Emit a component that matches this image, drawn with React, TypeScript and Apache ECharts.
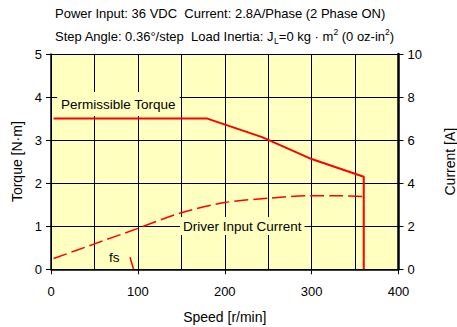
import React, { useEffect, useRef } from "react";
import * as echarts from "echarts";

const speedTicks = [0, 100, 200, 300, 400];
const torqueSpeed = [3, 180, 243, 300, 360, 360];
const torqueValues = [3.5, 3.5, 3.07, 2.56, 2.15, 0];
const currentSpeed = [3, 50, 100, 150, 200, 250, 300, 330, 360];
const currentValues = [0.5, 1.18, 1.9, 2.63, 3.1, 3.3, 3.42, 3.42, 3.38];
const fsSpeed = [91, 95];
const fsTorque = [0.28, 0];

const FONT = "Liberation Sans, Arial, sans-serif";
const BG = "#FFFFC0";

export default function App() {
  const ref = useRef<HTMLDivElement>(null);
  useEffect(() => {
    if (!ref.current) return;
    const chart = echarts.init(ref.current, undefined, { renderer: "svg" });
    const zip = (a: number[], b: number[]) => a.map((v, i) => [v, b[i]]);
    chart.setOption({
      animation: false,
      textStyle: { fontFamily: FONT },
      grid: {
        left: 51,
        right: 58.5,
        top: 54,
        bottom: 57.7,
        show: true,
        backgroundColor: BG,
        borderWidth: 0,
        containLabel: false,
        outerBoundsMode: "none",
      },
      xAxis: {
        type: "value",
        min: speedTicks[0],
        max: speedTicks[speedTicks.length - 1],
        interval: 100,
        name: "Speed [r/min]",
        nameLocation: "middle",
        nameGap: 41,
        nameTextStyle: { fontSize: 14, color: "#000", fontFamily: FONT },
        axisLine: { show: true, lineStyle: { color: "#000", width: 1.5 } },
        axisTick: { show: true, length: 5, lineStyle: { color: "#000" } },
        axisLabel: { fontSize: 13, color: "#000", margin: 16, fontFamily: FONT },
        splitLine: { show: true, lineStyle: { color: "#000", width: 1 } },
        minorTick: { show: false, splitNumber: 2 },
        minorSplitLine: { show: true, lineStyle: { color: "#000", width: 1 } },
      },
      yAxis: [
        {
          type: "value",
          min: 0,
          max: 5,
          interval: 1,
          name: "Torque [N·m]",
          nameLocation: "middle",
          nameGap: 27,
          nameTextStyle: { fontSize: 14, color: "#000", fontFamily: FONT },
          axisLine: { show: true, lineStyle: { color: "#000", width: 1.5 } },
          axisTick: { show: true, length: 5, lineStyle: { color: "#000" } },
          axisLabel: { fontSize: 13, color: "#000", margin: 9, fontFamily: FONT },
          splitLine: { show: true, lineStyle: { color: "#000", width: 1 } },
        },
        {
          type: "value",
          min: 0,
          max: 10,
          interval: 2,
          position: "right",
          name: "Current [A]",
          nameLocation: "middle",
          nameGap: 44,
          nameRotate: 90,
          nameTextStyle: { fontSize: 14, color: "#000", fontFamily: FONT },
          axisLine: { show: true, lineStyle: { color: "#000", width: 2.5 } },
          axisTick: { show: true, length: 5, lineStyle: { color: "#000" } },
          axisLabel: { fontSize: 13, color: "#000", margin: 9, fontFamily: FONT },
          splitLine: { show: false },
        },
      ],
      series: [
        {
          type: "line",
          data: zip(torqueSpeed, torqueValues),
          symbol: "none",
          lineStyle: { color: "#FF0000", width: 2 },
          z: 5,
        },
        {
          type: "line",
          yAxisIndex: 1,
          data: zip(currentSpeed, currentValues),
          symbol: "none",
          smooth: 0.3,
          lineStyle: { color: "#FF0000", width: 1.5, type: [14, 5] },
          z: 5,
        },
        {
          type: "line",
          data: zip(fsSpeed, fsTorque),
          symbol: "none",
          lineStyle: { color: "#FF0000", width: 1.5 },
          z: 5,
        },
      ],
      graphic: [
        {
          type: "text",
          left: 55,
          top: 7,
          style: {
            text: "Power Input: 36 VDC  Current: 2.8A/Phase (2 Phase ON)",
            fontSize: 13,
            fontFamily: FONT,
            fill: "#000",
          },
        },
        {
          type: "text",
          left: 55,
          top: 27,
          style: {
            text: "Step Angle: 0.36°/step  Load Inertia: J{sub|L}=0 kg · m{sup|2} (0 oz-in{sup|2})",
            fontSize: 13,
            fontFamily: FONT,
            fill: "#000",
            lineHeight: 18,
            rich: {
              sub: { fontSize: 8.5, lineHeight: 8, verticalAlign: "bottom", fontFamily: FONT, fill: "#000" },
              sup: { fontSize: 8.5, lineHeight: 8, verticalAlign: "top", fontFamily: FONT, fill: "#000" },
            },
          },
        },
        {
          type: "text",
          left: 57,
          top: 92,
          z: 10,
          style: {
            text: "Permissible Torque",
            fontSize: 13.5,
            fontFamily: FONT,
            fill: "#000",
            backgroundColor: BG,
            padding: [5, 4, 5, 4],
          },
        },
        {
          type: "text",
          left: 180,
          top: 217,
          z: 10,
          style: {
            text: "Driver Input Current",
            fontSize: 13.5,
            fontFamily: FONT,
            fill: "#000",
            backgroundColor: BG,
            padding: [2, 3, 2, 3],
          },
        },
        {
          type: "text",
          left: 109,
          top: 250,
          z: 10,
          style: { text: "fs", fontSize: 13.5, fontFamily: FONT, fill: "#000" },
        },
      ],
    });
    return () => chart.dispose();
  }, []);
  return <div ref={ref} style={{ width: 457, height: 327, position: "absolute", left: 0, top: 0 }} />;
}
